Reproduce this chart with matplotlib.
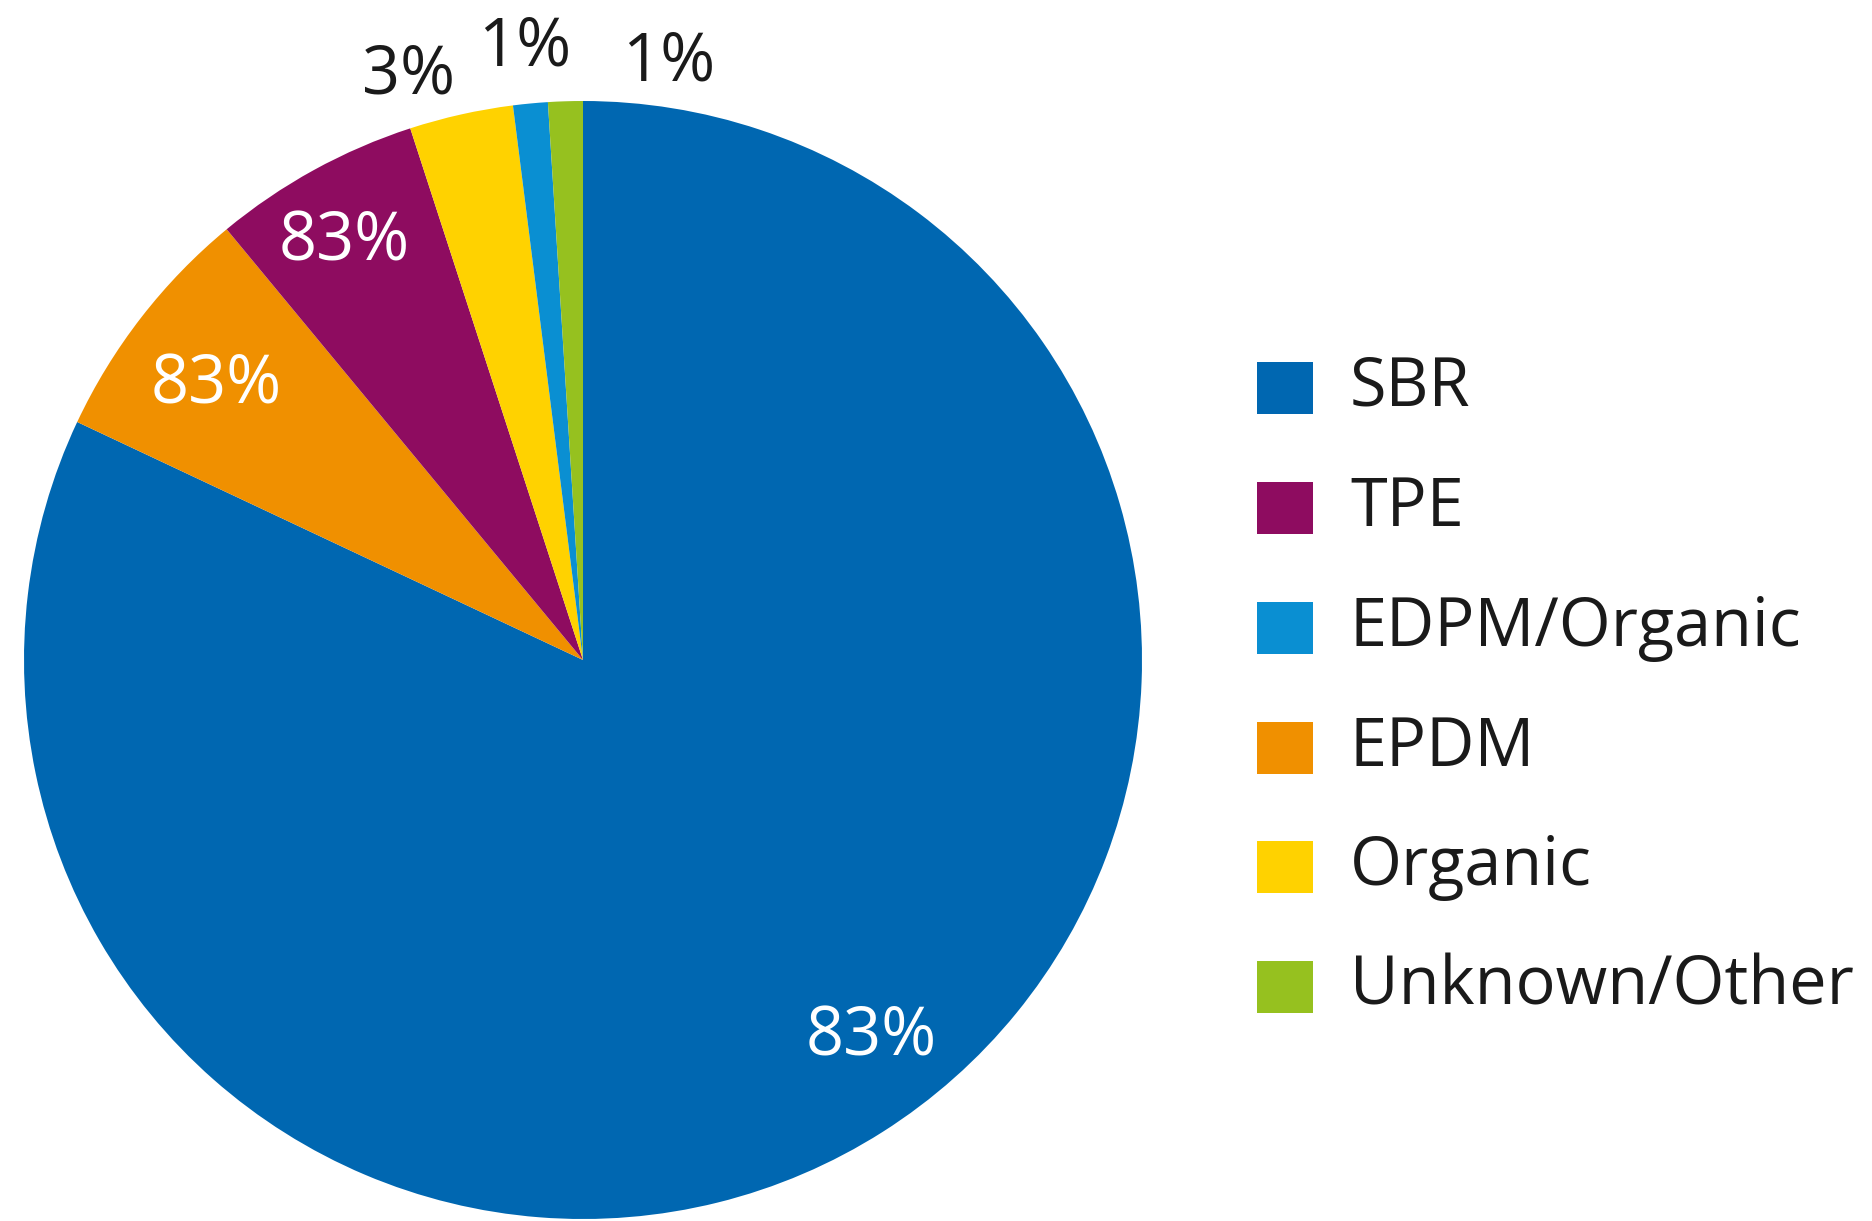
import matplotlib
matplotlib.use("Agg")
import numpy as np
import matplotlib.pyplot as plt
from matplotlib.patches import Rectangle

plt.rcParams['font.family'] = ['Open Sans', 'DejaVu Sans']

# wedge data, clockwise from 12 o'clock
labels = ["SBR", "EPDM", "TPE", "Organic", "EDPM/Organic", "Unknown/Other"]
values = [82, 7, 6, 3, 1, 1]
pct_text = ["83%", "83%", "83%", "3%", "1%", "1%"]   # as printed on the original
colors = {"SBR": "#0067b1", "TPE": "#8e0c60", "EDPM/Organic": "#0a8fd2",
          "EPDM": "#f09000", "Organic": "#ffd200", "Unknown/Other": "#96c11f"}

legend_order = ["SBR", "TPE", "EDPM/Organic", "EPDM", "Organic", "Unknown/Other"]

W, H = 1872, 1221
fig = plt.figure(figsize=(W / 100, H / 100), dpi=100)

# pie: center (583, 660) px, radius 559 px
cx, cy, r = 583, 660, 559
ax = fig.add_axes([(cx - r) / W, (H - cy - r) / H, 2 * r / W, 2 * r / H])
wedges, _ = ax.pie(values, colors=[colors[l] for l in labels], startangle=90,
                   counterclock=False, radius=1.0,
                   wedgeprops=dict(linewidth=0, antialiased=True))
ax.set_xlim(-1, 1)
ax.set_ylim(-1, 1)
ax.set_aspect("equal")
ax.axis("off")

# label placement: radius and angle nudge per wedge
lab_r = [0.85, 0.82, 0.86, 1.09, 1.10, 1.08]
lab_da = [5, 1, 1, 4, 0, -10]
for w, txt, rr, da in zip(wedges, pct_text, lab_r, lab_da):
    mid = np.deg2rad((w.theta1 + w.theta2) / 2 + da)
    inside = rr < 1
    ax.text(rr * np.cos(mid), rr * np.sin(mid), txt, ha="center", va="center",
            fontsize=48, color="white" if inside else "#1a1a1a", clip_on=False)

# legend
row_y = [388, 508, 628, 748, 867, 987]
for name, y in zip(legend_order, row_y):
    fig.add_artist(Rectangle((1257 / W, 1 - (y + 26) / H), 56 / W, 52 / H,
                             transform=fig.transFigure, facecolor=colors[name],
                             edgecolor="none"))
    fig.text(1350 / W, 1 - y / H, name, ha="left", va="center",
             fontsize=48, color="#1a1a1a")

fig.savefig("out.png", dpi=100, facecolor="white")
